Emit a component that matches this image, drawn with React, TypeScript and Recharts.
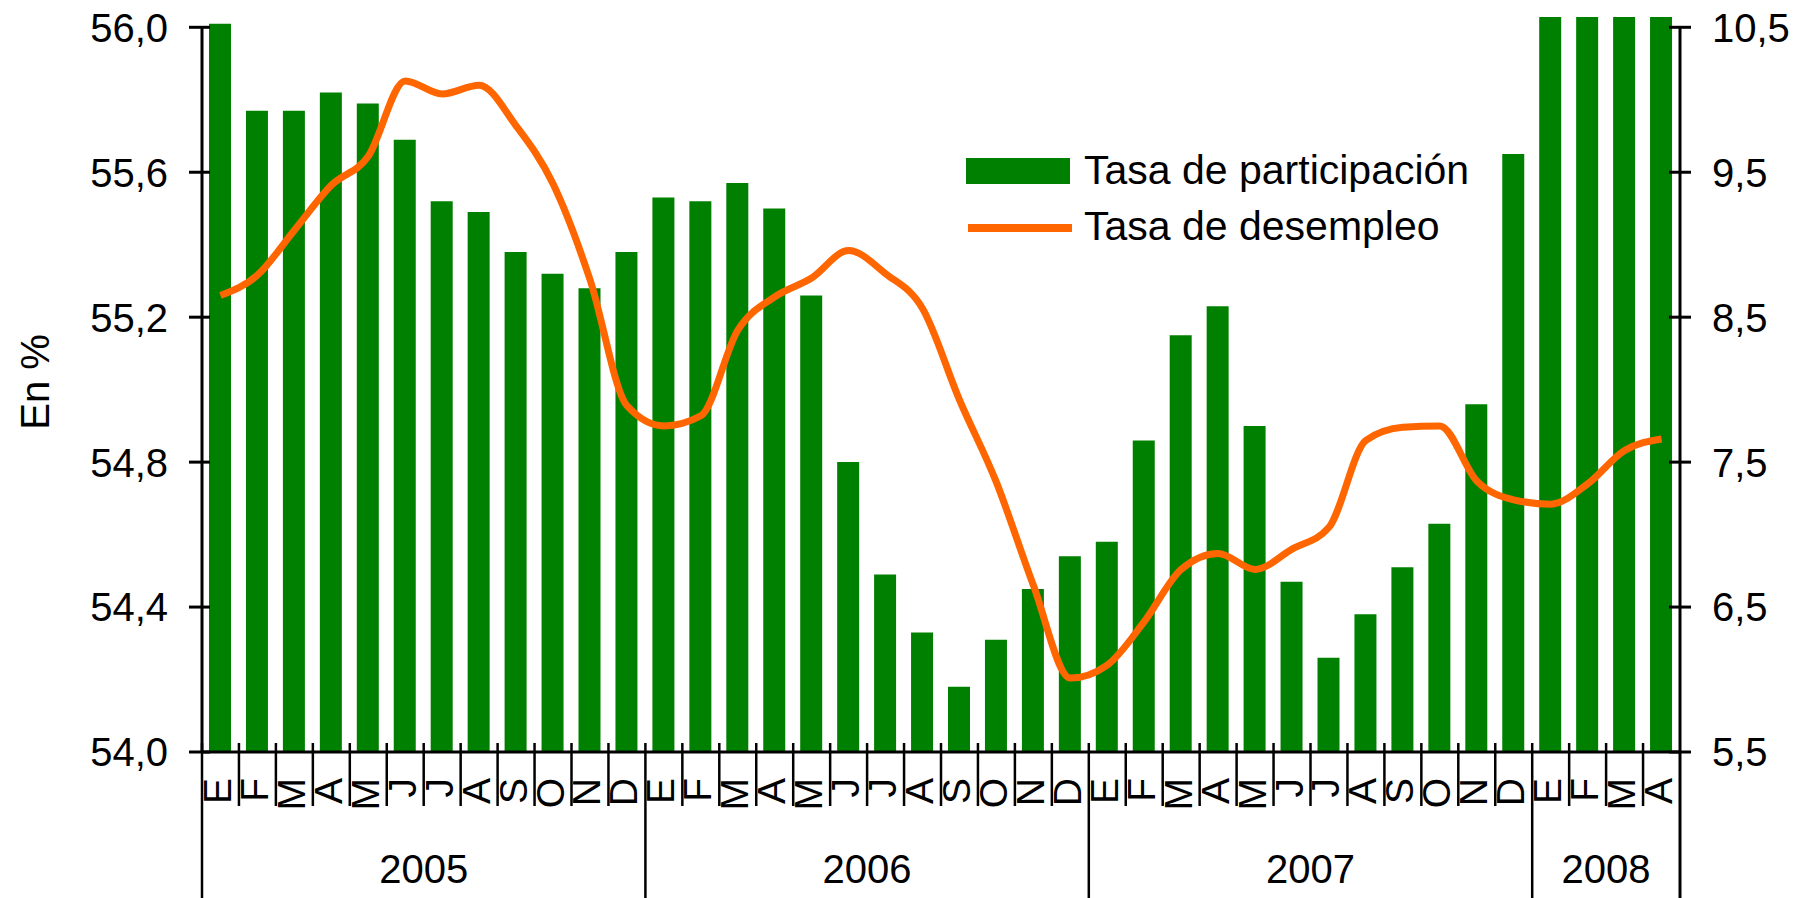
import React from 'react';
import { ComposedChart, Bar, Line, XAxis, YAxis, Legend } from 'recharts';

// categories
const YEARS = ['2005', '2006', '2007', '2008'];
const MONTHS_PER_YEAR = [12, 12, 12, 4];
const MONTH_LETTERS = ['E', 'F', 'M', 'A', 'M', 'J', 'J', 'A', 'S', 'O', 'N', 'D'];

// Tasa de participación (left axis, %)
const participacion = [
  56.01, 55.77, 55.77, 55.82, 55.79, 55.69, 55.52, 55.49, 55.38, 55.32, 55.28, 55.38,
  55.53, 55.52, 55.57, 55.5, 55.26, 54.8, 54.49, 54.33, 54.18, 54.31, 54.45, 54.54,
  54.58, 54.86, 55.15, 55.23, 54.9, 54.47, 54.26, 54.38, 54.51, 54.63, 54.96, 55.65,
  56.1, 56.12, 56.15, 56.1,
];

// Tasa de desempleo (right axis, %)
const desempleo = [
  8.65, 8.79, 9.1, 9.41, 9.61, 10.13, 10.04, 10.1, 9.82, 9.42, 8.76, 7.89,
  7.75, 7.82, 8.41, 8.64, 8.77, 8.96, 8.8, 8.56, 7.93, 7.36, 6.65, 6.01,
  6.1, 6.4, 6.76, 6.87, 6.76, 6.9, 7.05, 7.65, 7.74, 7.75, 7.37, 7.24,
  7.21, 7.35, 7.58, 7.66,
];

const leftTicks = [54, 54.4, 54.8, 55.2, 55.6, 56];
const rightTicks = [5.5, 6.5, 7.5, 8.5, 9.5, 10.5];

const data: any[] = [];
let k = 0;
YEARS.forEach((yr, yi) => {
  for (let m = 0; m < MONTHS_PER_YEAR[yi]; m++) {
    data.push({
      id: yr + '-' + m,
      mes: MONTH_LETTERS[m],
      anio: yr,
      part: participacion[k],
      des: desempleo[k],
    });
    k++;
  }
});

const W = 1810;
const H = 898;
const PLOT_LEFT = 202;
const PLOT_RIGHT = 1680;
const PLOT_TOP = 17;
const PLOT_BOTTOM = 752;
const TOP_TICK_Y = 27.3;
const STEP = (PLOT_BOTTOM - TOP_TICK_Y) / 5;
const BAND = (PLOT_RIGHT - PLOT_LEFT) / data.length;
const leftMax = 54 + (2 * (PLOT_BOTTOM - PLOT_TOP)) / (PLOT_BOTTOM - TOP_TICK_Y);
const rightMax = 5.5 + (5 * (PLOT_BOTTOM - PLOT_TOP)) / (PLOT_BOTTOM - TOP_TICK_Y);

const FONT = '"Liberation Sans", Arial, sans-serif';
const GREEN = '#008000';
const ORANGE = '#FF6600';

const fmt = (v: number) => v.toFixed(1).replace('.', ',');

const LeftTick = ({ y, payload, index }: any) => (
  <g>
    <line x1={PLOT_LEFT - 13} x2={PLOT_LEFT + 8} y1={y} y2={y} stroke="#000" strokeWidth={3} />
    {index < leftTicks.length - 1 && (
      <line x1={PLOT_LEFT} x2={PLOT_LEFT} y1={y} y2={y - STEP} stroke="#000" strokeWidth={3} />
    )}
    <text x={PLOT_LEFT - 34} y={y} dy="0.36em" textAnchor="end" fontSize={40} fontFamily={FONT} fill="#000">
      {fmt(payload.value)}
    </text>
  </g>
);

const RightTick = ({ y, payload, index }: any) => (
  <g>
    <line x1={PLOT_RIGHT - 11} x2={PLOT_RIGHT + 11} y1={y} y2={y} stroke="#000" strokeWidth={3} />
    {index < rightTicks.length - 1 && (
      <line x1={PLOT_RIGHT} x2={PLOT_RIGHT} y1={y} y2={y - STEP} stroke="#000" strokeWidth={3} />
    )}
    <text x={PLOT_RIGHT + 32} y={y} dy="0.36em" textAnchor="start" fontSize={40} fontFamily={FONT} fill="#000">
      {fmt(payload.value)}
    </text>
  </g>
);

const MonthTick = ({ x, index }: any) => {
  const d = data[index];
  const left = x - BAND / 2;
  const yearStart = index === 0 || data[index - 1].anio !== d.anio;
  const count = data.filter((r) => r.anio === d.anio).length;
  const ly = PLOT_BOTTOM + 26;
  return (
    <g>
      <line x1={left} x2={left} y1={PLOT_BOTTOM - 9} y2={yearStart ? H : PLOT_BOTTOM + 54} stroke="#000" strokeWidth={2.5} />
      {index === data.length - 1 && (
        <line x1={x + BAND / 2} x2={x + BAND / 2} y1={PLOT_BOTTOM} y2={H} stroke="#000" strokeWidth={3} />
      )}
      <text
        x={x}
        y={ly}
        dy="0.27em"
        transform={`rotate(-90 ${x} ${ly})`}
        textAnchor="end"
        fontSize={39}
        fontFamily={FONT}
        fill="#000"
      >
        {d.mes}
      </text>
      {yearStart && (
        <text x={left + (count * BAND) / 2} y={883} textAnchor="middle" fontSize={40} fontFamily={FONT} fill="#000">
          {d.anio}
        </text>
      )}
    </g>
  );
};

const AxisTitle = () => (
  <text x={35} y={382} dy="0.36em" transform="rotate(-90 35 382)" textAnchor="middle" fontSize={40} fontFamily={FONT} fill="#000">
    En %
  </text>
);

const LegendBox = ({ payload }: any) => {
  // bars first, then the line
  const items = [...(payload || [])].sort((a: any, b: any) => (a.type === 'line' ? 1 : 0) - (b.type === 'line' ? 1 : 0));
  return (
    <svg width={560} height={120} style={{ display: 'block' }}>
      {items.map((it: any, i: number) => {
        const isLine = it.type === 'line';
        const rowTop = i === 0 ? 18 : 74;
        return (
          <g key={i}>
            {isLine ? (
              <line x1={8} x2={112} y1={rowTop + 14} y2={rowTop + 14} stroke={it.color} strokeWidth={8} />
            ) : (
              <rect x={6} y={rowTop} width={104} height={26} fill={it.color} />
            )}
            <text x={124} y={rowTop + 26} fontSize={41} fontFamily={FONT} fill="#000">
              {it.value}
            </text>
          </g>
        );
      })}
    </svg>
  );
};

export default function App() {
  return (
    <div style={{ position: 'absolute', left: 0, top: 0, width: W, height: H, background: '#fff' }}>
      <ComposedChart
        width={W}
        height={H}
        data={data}
        margin={{ top: PLOT_TOP, right: W - PLOT_RIGHT - 80, bottom: H - PLOT_BOTTOM - 100, left: PLOT_LEFT - 80 }}
        barCategoryGap={0}
      >
        <XAxis
          dataKey="id"
          interval={0}
          height={100}
          tickLine={false}
          axisLine={{ stroke: '#000', strokeWidth: 3 }}
          tick={<MonthTick />}
        />
        <YAxis
          yAxisId="left"
          width={80}
          domain={[54, leftMax]}
          ticks={leftTicks}
          allowDataOverflow
          axisLine={false}
          tickLine={false}
          tick={<LeftTick />}
          label={<AxisTitle />}
        />
        <YAxis
          yAxisId="right"
          orientation="right"
          width={80}
          domain={[5.5, rightMax]}
          ticks={rightTicks}
          allowDataOverflow
          axisLine={false}
          tickLine={false}
          tick={<RightTick />}
        />
        <Legend
          layout="vertical"
          align="center"
          verticalAlign="middle"
          content={<LegendBox />}
          wrapperStyle={{ left: 960, top: 140, width: 560, height: 120 }}
        />
        <Bar yAxisId="left" dataKey="part" name="Tasa de participación" fill={GREEN} barSize={22} isAnimationActive={false} />
        <Line
          yAxisId="right"
          dataKey="des"
          name="Tasa de desempleo"
          type="monotone"
          stroke={ORANGE}
          strokeWidth={7}
          dot={false}
          activeDot={false}
          isAnimationActive={false}
        />
      </ComposedChart>
    </div>
  );
}
